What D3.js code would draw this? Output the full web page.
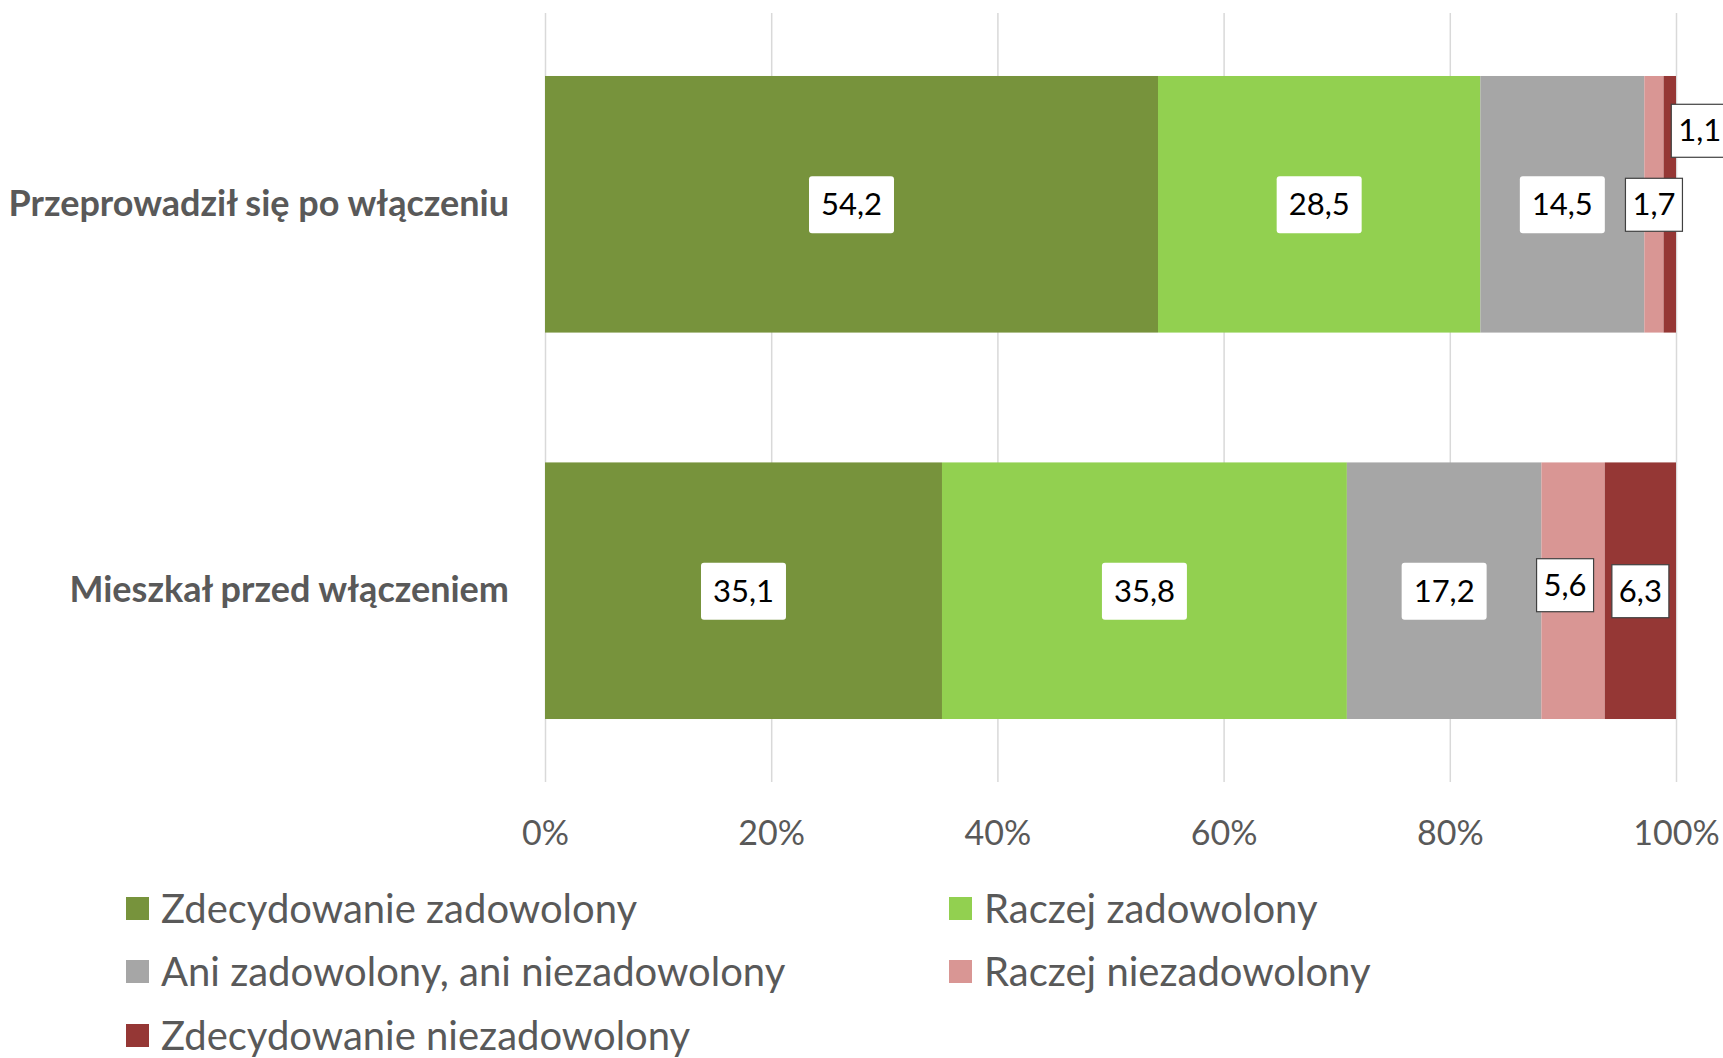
<!DOCTYPE html>
<html><head><meta charset="utf-8">
<script src="https://cdn.jsdelivr.net/npm/d3@7"></script>
<style>body{margin:0;background:#fff}svg{display:block}text{font-family:Lato,"Open Sans",sans-serif}</style>
</head><body><svg id="c" width="1723" height="1058"></svg>
<script>
const categories = ["Przeprowadził się po włączeniu", "Mieszkał przed włączeniem"];
const seriesNames = ["Zdecydowanie zadowolony", "Raczej zadowolony", "Ani zadowolony, ani niezadowolony", "Raczej niezadowolony", "Zdecydowanie niezadowolony"];
const values = [
  [54.2, 28.5, 14.5, 1.7, 1.1],
  [35.1, 35.8, 17.2, 5.6, 6.3]
];
const tickValues = [0, 20, 40, 60, 80, 100];
const tickLabels = ["0%", "20%", "40%", "60%", "80%", "100%"];
const colors = ["#77933C", "#92D050", "#A6A6A6", "#D99694", "#953735"];
// label display tweaks (which labels get a border, and manual nudges like the original)
const bordered = [[false,false,false,true,true],[false,false,false,true,true]];
const nudge = [[[0,0],[0,0],[0,0],[0,0],[30,-74]],[[0,0],[0,0],[0,0],[-8,-6],[0,0]]];

const svg = d3.select("#c");
const x = d3.scaleLinear().domain([0,100]).range([545,1676]);
const y = d3.scaleBand().domain(categories).range([13,782]).paddingInner(0.336).paddingOuter(0.163);

// gridlines
svg.append("g").selectAll("line").data(tickValues).join("line")
  .attr("x1", d=>x(d)+0.5).attr("x2", d=>x(d)+0.5).attr("y1", 13).attr("y2", 782)
  .attr("stroke", "#d9d9d9").attr("stroke-width", 1.5);

// axis labels
const ax = d3.axisBottom(x).tickValues(tickValues).tickFormat((d,i)=>tickLabels[i]).tickSize(0).tickPadding(0);
const axg = svg.append("g").attr("transform","translate(0,821)").call(ax);
axg.select(".domain").remove();
axg.selectAll("text").attr("font-size", 34).attr("fill","#595959").attr("dy","0.71em").style("font-family","Lato,sans-serif");

// category labels
const ya = d3.axisLeft(y).tickSize(0).tickPadding(0);
const yg = svg.append("g").attr("transform","translate(509,0)").call(ya);
yg.select(".domain").remove();
yg.selectAll("text").attr("font-size", 36).attr("font-weight","bold").attr("fill","#595959").style("font-family","Lato,sans-serif");

// bars
const rows = categories.map((c,ci)=>{
  let cum = 0;
  return values[ci].map((v,si)=>{ const d={c,ci,si,v,x0:cum,x1:cum+v}; cum+=v; return d; });
});
const flat = rows.flat();
svg.append("g").selectAll("rect").data(flat).join("rect")
  .attr("x", d=>x(d.x0)).attr("width", d=>x(d.x1)-x(d.x0))
  .attr("y", d=>y(d.c)).attr("height", y.bandwidth())
  .attr("fill", d=>colors[d.si]);

// labels
const lg = svg.append("g").selectAll("g").data(flat).join("g")
  .attr("transform", d=>`translate(${(x(d.x0)+x(d.x1))/2 + nudge[d.ci][d.si][0]},${y(d.c)+y.bandwidth()/2 + nudge[d.ci][d.si][1]})`);
lg.each(function(d){
  const g = d3.select(this);
  const t = g.append("text").text(String(d.v).replace(".", ","))
    .attr("text-anchor","middle").attr("dy","0.36em").attr("font-size", 31).attr("fill","#000");
  const bb = t.node().getBBox();
  const b = bordered[d.ci][d.si];
  const pw = b ? 7 : 12;
  g.insert("rect","text").attr("x", bb.x-pw).attr("y", b?-26:-28).attr("width", bb.width+2*pw).attr("height", b?53:57)
    .attr("rx", b?0:3).attr("fill","#fff").attr("stroke", b?"#404040":"none").attr("stroke-width", 1.2);
});

// legend
const legendPos = [[126,909],[949,909],[126,972],[949,972],[126,1036]];
const leg = svg.append("g").selectAll("g").data(seriesNames).join("g")
  .attr("transform",(d,i)=>`translate(${legendPos[i][0]},${legendPos[i][1]})`);
leg.append("rect").attr("x",0).attr("y",-12).attr("width",23).attr("height",23).attr("fill",(d,i)=>colors[i]);
leg.append("text").attr("x",35).attr("dy","0.35em").attr("font-size",40).attr("fill","#595959").text(d=>d);
</script></body></html>
